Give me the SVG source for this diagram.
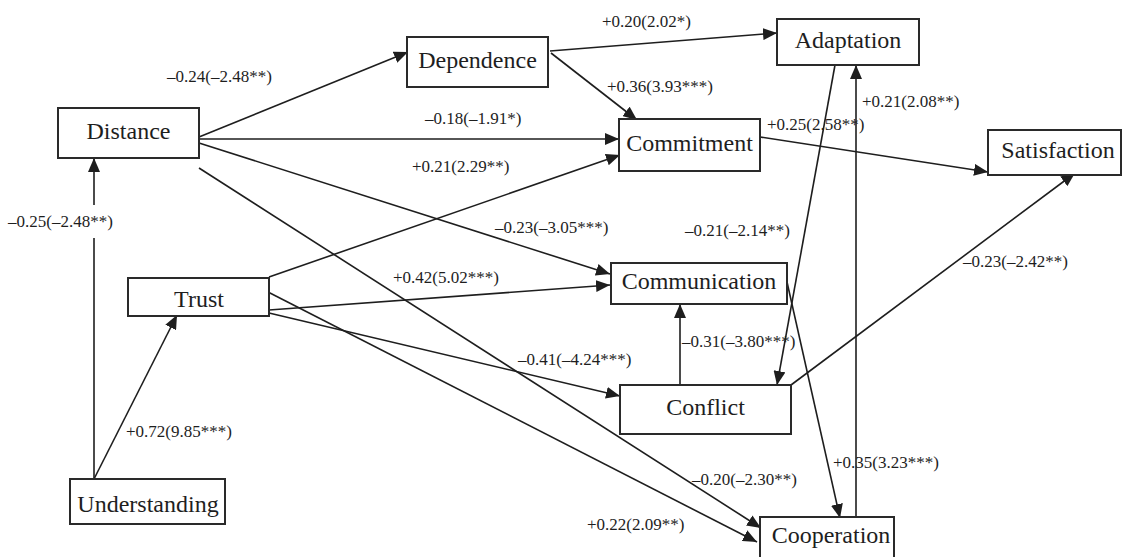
<svg xmlns="http://www.w3.org/2000/svg" width="1124" height="557" viewBox="0 0 1124 557">
  <style>
    .box { fill: #ffffff; stroke: #2a2a2a; stroke-width: 2; }
    .name { font-size: 24px; fill: #1e1e1e; text-anchor: middle; }
    .edge { stroke: #1e1e1e; stroke-width: 1.6; fill: none; marker-end: url(#head); }
    .plain { stroke: #1e1e1e; stroke-width: 1.6; fill: none; }
    .coef { font-size: 17px; fill: #1e1e1e; }
  </style>
  <defs>
    <marker id="head" markerUnits="userSpaceOnUse" markerWidth="14" markerHeight="12" viewBox="0 0 14 12" refX="14" refY="6" orient="auto">
      <path d="M0,0 L14,6 L0,12 z" fill="#1e1e1e"/>
    </marker>
  </defs>
  <rect width="1124" height="557" fill="#ffffff"/>

  <g id="connectors">
    <!-- Distance paths -->
    <line class="edge" x1="199" y1="137" x2="408" y2="52"/>
    <line class="edge" x1="199" y1="139" x2="619" y2="139"/>
    <line class="edge" x1="199" y1="143" x2="610" y2="274"/>
    <line class="edge" x1="199" y1="168" x2="761" y2="528"/>
    <!-- Understanding paths -->
    <line class="plain" x1="94" y1="479" x2="94" y2="238"/>
    <line class="edge" x1="94" y1="205" x2="94" y2="158"/>
    <line class="edge" x1="94" y1="479" x2="177" y2="315"/>
    <!-- Dependence paths -->
    <line class="edge" x1="550" y1="51" x2="777" y2="33"/>
    <line class="edge" x1="551" y1="53" x2="637" y2="120"/>
    <!-- Trust paths -->
    <line class="edge" x1="269" y1="277" x2="620" y2="155"/>
    <line class="edge" x1="269" y1="310" x2="610" y2="285"/>
    <line class="edge" x1="269" y1="313" x2="620" y2="396"/>
    <line class="edge" x1="268" y1="292" x2="757" y2="542"/>
    <!-- Commitment to Satisfaction -->
    <line class="edge" x1="760" y1="137" x2="988" y2="172"/>
    <!-- Conflict paths -->
    <line class="edge" x1="680" y1="385" x2="680" y2="304"/>
    <line class="edge" x1="791" y1="385" x2="1075" y2="173"/>
    <!-- Adaptation to Conflict -->
    <line class="edge" x1="835" y1="65" x2="777" y2="385"/>
    <!-- Cooperation to Adaptation -->
    <line class="edge" x1="856" y1="517" x2="856" y2="65"/>
    <!-- Communication to Cooperation -->
    <line class="edge" x1="787" y1="282" x2="840" y2="518"/>
  </g>

  <g id="coefficients" font-family="Liberation Serif, DejaVu Serif, serif">
    <text class="coef" x="167" y="82">–0.24(–2.48**)</text>
    <text class="coef" x="425" y="124">–0.18(–1.91*)</text>
    <text class="coef" x="495" y="233">–0.23(–3.05***)</text>
    <text class="coef" x="8" y="227">–0.25(–2.48**)</text>
    <text class="coef" x="126" y="437">+0.72(9.85***)</text>
    <text class="coef" x="602" y="27">+0.20(2.02*)</text>
    <text class="coef" x="607" y="92">+0.36(3.93***)</text>
    <text class="coef" x="412" y="172">+0.21(2.29**)</text>
    <text class="coef" x="767" y="130">+0.25(2.58**)</text>
    <text class="coef" x="862" y="107">+0.21(2.08**)</text>
    <text class="coef" x="393" y="283">+0.42(5.02***)</text>
    <text class="coef" x="518" y="365">–0.41(–4.24***)</text>
    <text class="coef" x="682" y="347">–0.31(–3.80***)</text>
    <text class="coef" x="685" y="236">–0.21(–2.14**)</text>
    <text class="coef" x="963" y="267">–0.23(–2.42**)</text>
    <text class="coef" x="833" y="468">+0.35(3.23***)</text>
    <text class="coef" x="692" y="485">–0.20(–2.30**)</text>
    <text class="coef" x="587" y="530">+0.22(2.09**)</text>
  </g>

  <g id="nodes" font-family="Liberation Serif, DejaVu Serif, serif">
    <g id="node-distance">
      <rect class="box" x="58" y="108" width="141" height="50"/>
      <text class="name" x="128.5" y="139">Distance</text>
    </g>
    <g id="node-dependence">
      <rect class="box" x="407" y="37" width="141" height="50"/>
      <text class="name" x="477.5" y="68">Dependence</text>
    </g>
    <g id="node-commitment">
      <rect class="box" x="619" y="119" width="141" height="52"/>
      <text class="name" x="689.5" y="151">Commitment</text>
    </g>
    <g id="node-adaptation">
      <rect class="box" x="777" y="19" width="142" height="46"/>
      <text class="name" x="848" y="48">Adaptation</text>
    </g>
    <g id="node-satisfaction">
      <rect class="box" x="988" y="130" width="133" height="45"/>
      <text class="name" x="1058" y="158">Satisfaction</text>
    </g>
    <g id="node-trust">
      <rect class="box" x="128" y="278" width="141" height="38"/>
      <text class="name" x="199" y="307">Trust</text>
    </g>
    <g id="node-communication">
      <rect class="box" x="611" y="263" width="176" height="41"/>
      <text class="name" x="699" y="289">Communication</text>
    </g>
    <g id="node-conflict">
      <rect class="box" x="620" y="385" width="171" height="49"/>
      <text class="name" x="705.5" y="415">Conflict</text>
    </g>
    <g id="node-understanding">
      <rect class="box" x="70" y="479" width="155" height="45"/>
      <text class="name" x="148" y="512">Understanding</text>
    </g>
    <g id="node-cooperation">
      <rect class="box" x="760" y="517" width="134" height="50"/>
      <text class="name" x="831" y="543">Cooperation</text>
    </g>
  </g>
</svg>
